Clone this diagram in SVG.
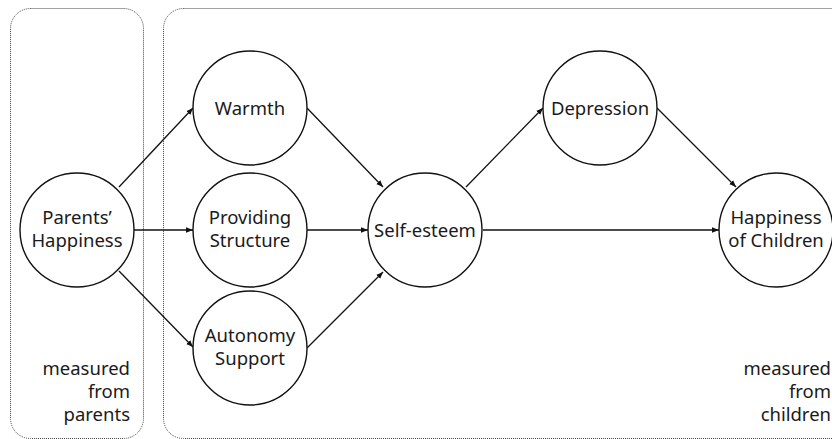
<svg xmlns="http://www.w3.org/2000/svg" width="832" height="439" viewBox="0 0 832 439">
<defs>
<style>
.box{fill:none;stroke:#444;stroke-width:1;stroke-dasharray:1 1}
.node{fill:#fff;stroke:#111;stroke-width:1.4}
.lbl{font-family:"Noto Sans","Open Sans",sans-serif;font-size:18.5px;fill:#1a1a1a;text-anchor:middle}
.note{font-family:"Noto Sans","Open Sans",sans-serif;font-size:18.5px;fill:#1a1a1a;text-anchor:end}
.edge{fill:none;stroke:#111;stroke-width:1.3;marker-end:url(#arr)}
</style>
<marker id="arr" viewBox="0 0 10 10" refX="10" refY="5" markerWidth="7" markerHeight="7" markerUnits="userSpaceOnUse" orient="auto">
<path d="M0,1 L10,5 L0,9 z" fill="#111"/>
</marker>
</defs>
<rect width="832" height="439" fill="#fff"/>
<g id="regions">
<rect class="box" x="10.5" y="8.5" width="133" height="430" rx="20"/>
<rect class="box" x="163.5" y="8.5" width="690" height="430" rx="20"/>
<text class="note" x="130" y="375"><tspan x="130">measured</tspan><tspan x="130" dy="23">from</tspan><tspan x="130" dy="23">parents</tspan></text>
<text class="note" x="831" y="375"><tspan x="831">measured</tspan><tspan x="831" dy="23">from</tspan><tspan x="831" dy="23">children</tspan></text>
</g>
<g id="connectors">
<path class="edge" d="M119,187 L193,108"/>
<path class="edge" d="M134,230 L193,230"/>
<path class="edge" d="M119,271 L193,347"/>
<path class="edge" d="M307,108 L383,187"/>
<path class="edge" d="M307,230 L368,230"/>
<path class="edge" d="M307,348 L383,272"/>
<path class="edge" d="M466,187 L543,108"/>
<path class="edge" d="M657,108 L736,187"/>
<path class="edge" d="M483,230 L719,230"/>
</g>
<g id="parents">
<circle class="node" cx="77" cy="230" r="57"/>
<text class="lbl" x="77" y="224">Parents’</text>
<text class="lbl" x="77" y="247">Happiness</text>
</g>
<g id="warmth">
<circle class="node" cx="250" cy="108" r="57"/>
<text class="lbl" x="250" y="115">Warmth</text>
</g>
<g id="structure">
<circle class="node" cx="250" cy="230" r="57"/>
<text class="lbl" x="250" y="224">Providing</text>
<text class="lbl" x="250" y="247">Structure</text>
</g>
<g id="autonomy">
<circle class="node" cx="250" cy="348" r="57"/>
<text class="lbl" x="250" y="342">Autonomy</text>
<text class="lbl" x="250" y="365">Support</text>
</g>
<g id="selfesteem">
<circle class="node" cx="425" cy="230" r="57"/>
<text class="lbl" x="425" y="237">Self-esteem</text>
</g>
<g id="depression">
<circle class="node" cx="600" cy="108" r="57"/>
<text class="lbl" x="600" y="115">Depression</text>
</g>
<g id="happiness">
<circle class="node" cx="776" cy="230" r="57"/>
<text class="lbl" x="776" y="224">Happiness</text>
<text class="lbl" x="776" y="247">of Children</text>
</g>
</svg>
